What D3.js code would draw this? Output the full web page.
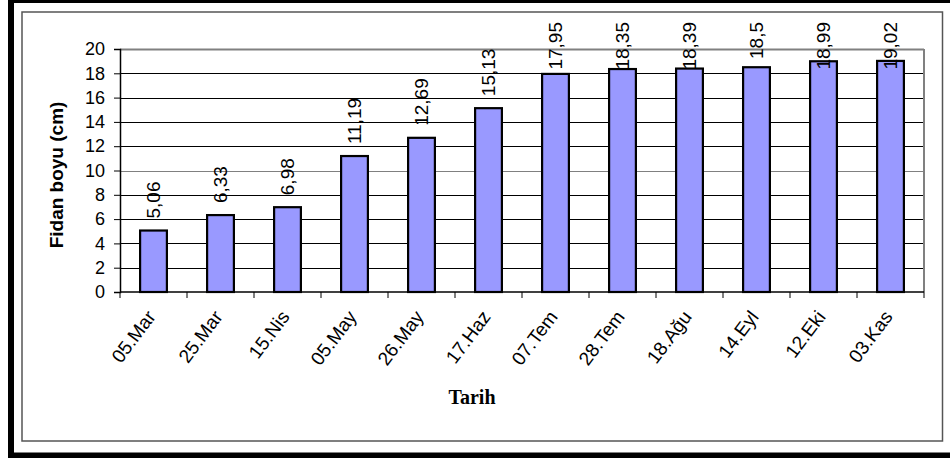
<!DOCTYPE html>
<html>
<head>
<meta charset="utf-8">
<script src="https://cdn.jsdelivr.net/npm/d3@7"></script>
<style>
  html, body { margin: 0; padding: 0; background: #fff; }
  svg { display: block; }
</style>
</head>
<body>
<svg id="chart" width="950" height="458"></svg>
<script>
// Seedling height (cm) by measurement date
const dates = ["05.Mar", "25.Mar", "15.Nis", "05.May", "26.May", "17.Haz",
               "07.Tem", "28.Tem", "18.Ağu", "14.Eyl", "12.Eki", "03.Kas"];
const heights = [5.06, 6.33, 6.98, 11.19, 12.69, 15.13, 17.95, 18.35, 18.39, 18.5, 18.99, 19.02];
const yTicks = [0, 2, 4, 6, 8, 10, 12, 14, 16, 18, 20];
const yTitle = "Fidan boyu (cm)";
const xTitle = "Tarih";

const svg = d3.select("#chart");

const plot = { left: 120, right: 924, top: 49, bottom: 292 };

const x = d3.scaleBand()
  .domain(dates)
  .range([plot.left, plot.right])
  .paddingInner(0.6)
  .paddingOuter(0.3);

const y = d3.scaleLinear()
  .domain([0, 20])
  .range([plot.bottom, plot.top]);

const fmt = v => String(v).replace(".", ",");
const sans = "Liberation Sans, Arial, sans-serif";

// frame: heavy outer border and thin inner border
svg.append("rect")
  .attr("x", 11).attr("y", 0)
  .attr("width", 960).attr("height", 455.5)
  .attr("fill", "#fff").attr("stroke", "#000").attr("stroke-width", 6);
svg.append("rect")
  .attr("x", 22).attr("y", 12)
  .attr("width", 920.5).attr("height", 429)
  .attr("fill", "none").attr("stroke", "#555").attr("stroke-width", 1.5);

// horizontal gridlines
svg.append("g")
  .selectAll("line")
  .data(yTicks.filter(t => t > 0))
  .join("line")
  .attr("x1", plot.left).attr("x2", plot.right)
  .attr("y1", d => Math.round(y(d)) + 0.5)
  .attr("y2", d => Math.round(y(d)) + 0.5)
  .attr("stroke", d => (d === 20 || d === 10) ? "#808080" : "#000")
  .attr("stroke-width", d => d === 20 ? 2 : 1);

// right edge of the plot area
svg.append("line")
  .attr("x1", plot.right).attr("x2", plot.right)
  .attr("y1", plot.top).attr("y2", plot.bottom)
  .attr("stroke", "#808080").attr("stroke-width", 2);

// y axis
const yAxis = d3.axisLeft(y).tickValues(yTicks).tickSize(6).tickPadding(9);
const gy = svg.append("g")
  .attr("transform", `translate(${plot.left},0)`)
  .call(yAxis);
gy.select(".domain").attr("stroke", "#000").attr("stroke-width", 1.5);
gy.selectAll(".tick line").attr("stroke", "#000").attr("stroke-width", 1);
gy.selectAll(".tick text")
  .attr("font-family", sans)
  .attr("font-size", 18)
  .attr("fill", "#000");

// x axis baseline and category boundary ticks
svg.append("line")
  .attr("x1", plot.left).attr("x2", plot.right)
  .attr("y1", plot.bottom).attr("y2", plot.bottom)
  .attr("stroke", "#000").attr("stroke-width", 1.5);
const step = x.step();
svg.append("g")
  .selectAll("line")
  .data(d3.range(dates.length + 1))
  .join("line")
  .attr("x1", i => plot.left + step * i)
  .attr("x2", i => plot.left + step * i)
  .attr("y1", plot.bottom).attr("y2", plot.bottom + 6)
  .attr("stroke", "#000").attr("stroke-width", 1);

// bars
svg.append("g")
  .selectAll("rect")
  .data(heights)
  .join("rect")
  .attr("x", (d, i) => x(dates[i]))
  .attr("y", d => y(d))
  .attr("width", x.bandwidth())
  .attr("height", d => y(0) - y(d))
  .attr("fill", "#9999FF")
  .attr("stroke", "#000")
  .attr("stroke-width", 2.2);

// value labels, rotated; kept inside the chart frame at the top
const labelTop = 22;
svg.append("g")
  .selectAll("text")
  .data(heights)
  .join("text")
  .attr("font-family", sans)
  .attr("font-size", 19)
  .attr("fill", "#000")
  .attr("text-anchor", "start")
  .text(d => fmt(d))
  .each(function(d, i) {
    const len = this.getComputedTextLength();
    const cx = x(dates[i]) + x.bandwidth() / 2;
    const start = Math.max(y(d) - 12, labelTop + len);
    d3.select(this).attr("transform", `translate(${cx + 6},${start}) rotate(-90)`);
  });

// category labels
svg.append("g")
  .selectAll("text")
  .data(dates)
  .join("text")
  .attr("font-family", sans)
  .attr("font-size", 19)
  .attr("fill", "#000")
  .attr("text-anchor", "end")
  .attr("transform", d => `translate(${x(d) + x.bandwidth() / 2 + 3},${plot.bottom + 25}) rotate(-53)`)
  .text(d => d);

// axis titles
svg.append("text")
  .attr("font-family", sans)
  .attr("font-size", 19)
  .attr("font-weight", "bold")
  .attr("text-anchor", "middle")
  .attr("transform", "translate(63,175) rotate(-90)")
  .text(yTitle);

svg.append("text")
  .attr("font-family", "Liberation Serif, Times New Roman, serif")
  .attr("font-size", 20)
  .attr("font-weight", "bold")
  .attr("text-anchor", "middle")
  .attr("x", 472).attr("y", 404)
  .text(xTitle);
</script>
</body>
</html>
